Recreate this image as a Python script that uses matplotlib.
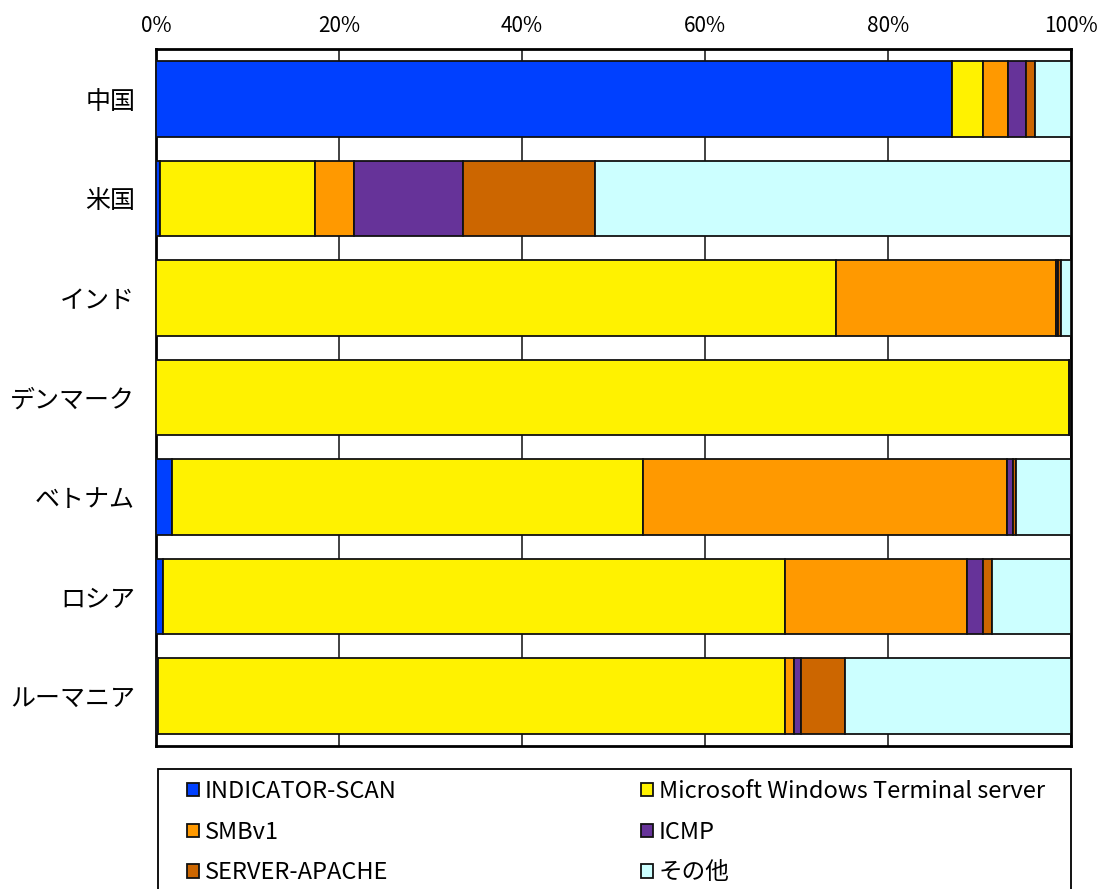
import matplotlib
matplotlib.use("Agg")
import matplotlib.pyplot as plt
from matplotlib.patches import Rectangle
import numpy as np

plt.rcParams['font.family'] = ['Noto Sans CJK JP', 'DejaVu Sans']

countries = ["中国", "米国", "インド", "デンマーク", "ベトナム", "ロシア", "ルーマニア"]
series_names = ["INDICATOR-SCAN", "Microsoft Windows Terminal server", "SMBv1",
                "ICMP", "SERVER-APACHE", "その他"]
indicator_scan = [87.0, 0.4, 0.0, 0.0, 1.8, 0.8, 0.2]
ms_terminal =    [3.3, 17.0, 74.3, 99.8, 51.4, 67.9, 68.5]
smbv1 =          [2.8, 4.2, 24.1, 0.05, 39.8, 19.9, 1.05]
icmp =           [1.9, 12.0, 0.2, 0.05, 0.7, 1.8, 0.7]
server_apache =  [1.06, 14.4, 0.3, 0.05, 0.25, 1.0, 4.9]
other =          [3.9, 52.0, 1.1, 0.05, 6.05, 8.6, 24.65]
tick_labels = ["0%", "20%", "40%", "60%", "80%", "100%"]

colors = ["#0040FF", "#FFF200", "#FF9900", "#663399", "#CC6600", "#CCFFFF"]
series = [indicator_scan, ms_terminal, smbv1, icmp, server_apache, other]

W, H = 1109, 889
fig = plt.figure(figsize=(W/100, H/100), dpi=100)
ax = fig.add_axes([156/W, 1-746/H, (1071-156)/W, (746-49)/H])

data = np.array(series, dtype=float)
totals = data.sum(axis=0)
data = data / totals * 100.0
y = np.arange(len(countries))
left = np.zeros(len(countries))
handles = []
for vals, col, name in zip(data, colors, series_names):
    b = ax.barh(y, vals, left=left, height=0.76, color=col, edgecolor="#111111",
                linewidth=1.3, label=name, zorder=3)
    handles.append(b)
    left += vals

ax.set_xlim(0, 100)
ax.set_ylim(len(countries) - 0.5, -0.5)
ax.set_yticks(y)
ax.set_yticklabels(countries, fontsize=18)
ax.set_xticks(np.arange(0, 101, 20))
ax.set_xticklabels(tick_labels, fontsize=15)
ax.xaxis.tick_top()
ax.tick_params(axis='y', length=0, pad=15)
ax.tick_params(axis='x', length=0, pad=9)
ax.grid(axis='x', color="#333333", linewidth=1.3, zorder=0)
ax.set_axisbelow(True)
for s in ax.spines.values():
    s.set_linewidth(2)
    s.set_color("black")

# legend frame
fig.patches.append(Rectangle((158/W, -0.05), (1071-158)/W, (1-769/H) + 0.05,
                             transform=fig.transFigure, facecolor="white",
                             edgecolor="black", linewidth=1.3, zorder=0))

common = dict(loc="upper left", fontsize=17, frameon=False,
              handlelength=0.5, handleheight=0.5, handletextpad=0.25,
              labelspacing=0.75, borderpad=0.0, borderaxespad=0.0)
col1 = [0, 2, 4]
col2 = [1, 3, 5]
leg1 = fig.legend(handles=[handles[i] for i in col1],
                  labels=[series_names[i] for i in col1],
                  bbox_to_anchor=(187/W, 1-780/H), **common)
leg2 = fig.legend(handles=[handles[i] for i in col2],
                  labels=[series_names[i] for i in col2],
                  bbox_to_anchor=(641/W, 1-780/H), **common)
for leg in (leg1, leg2):
    for h in leg.legend_handles:
        h.set_edgecolor("#111111")
        h.set_linewidth(1.3)

fig.savefig("out.png", dpi=100)
